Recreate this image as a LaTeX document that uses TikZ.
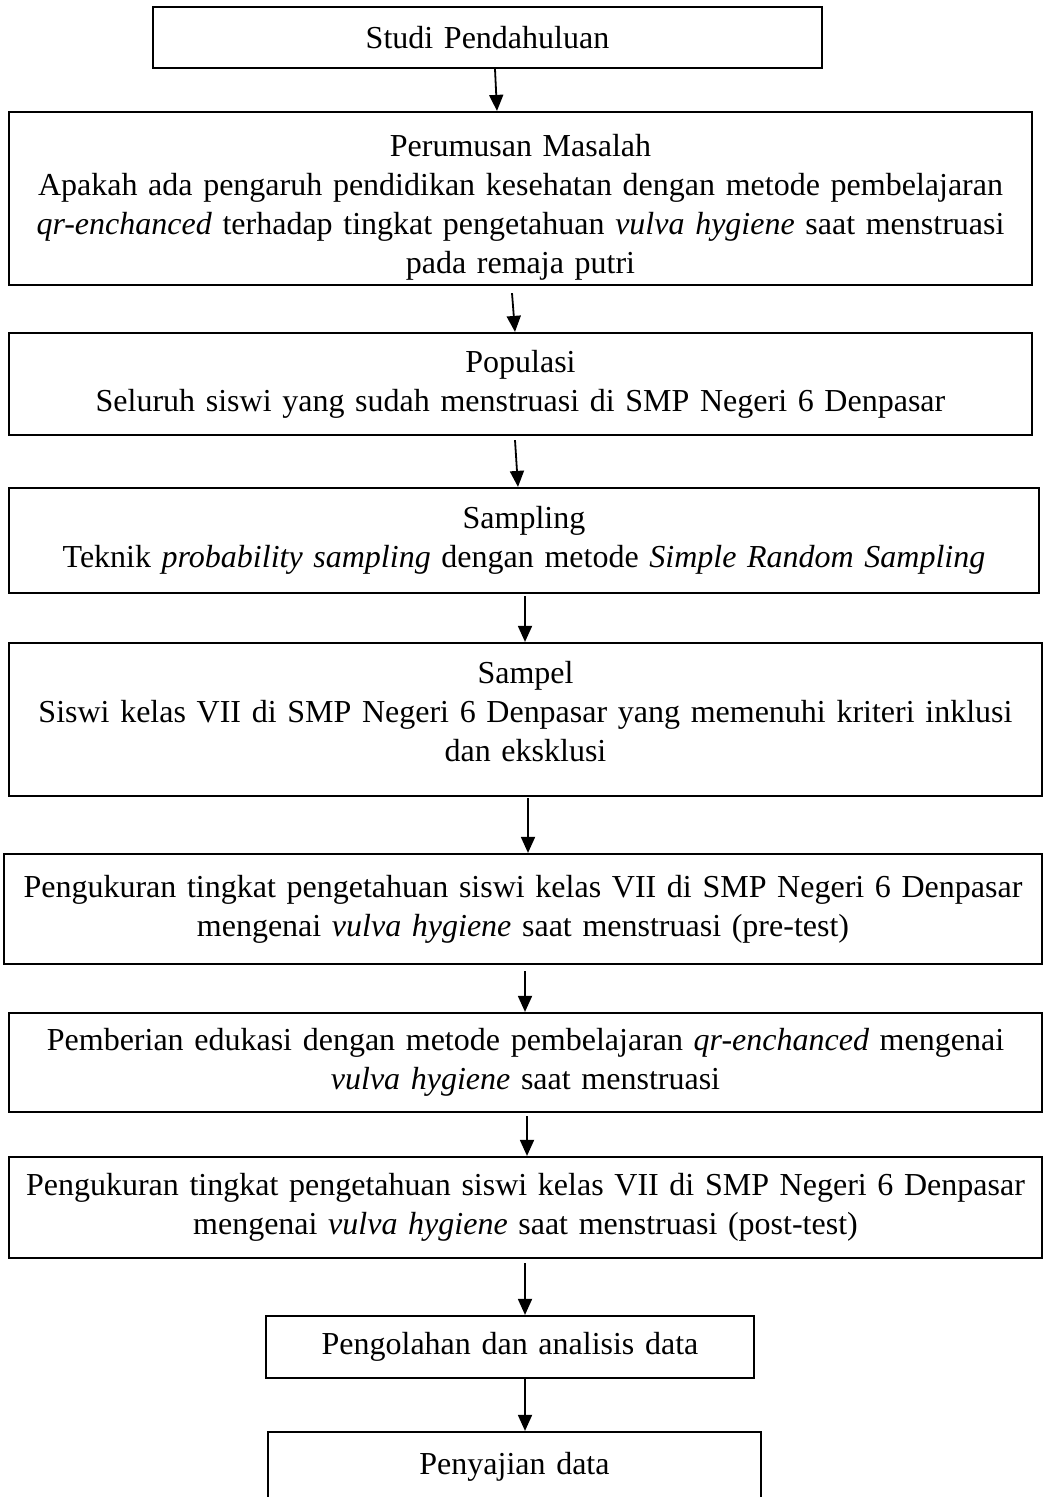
\documentclass[tikz,border=0pt]{standalone}
\usepackage{fontspec}
\setmainfont{Liberation Serif}
\usetikzlibrary{arrows.meta}
\begin{document}
\begin{tikzpicture}[x=1pt,y=-1pt,
  box/.style={draw, line width=2.2pt, inner sep=0pt, align=center,
    font=\fontsize{32}{39}\selectfont},
  arr/.style={-{Triangle[length=16pt,width=14pt]}, line width=1.8pt}]
\clip (0,0) rectangle (1043,1497);
\useasboundingbox (0,0) rectangle (1043,1497);

\node[box, text width=669pt, minimum height=61pt] (b1) at (487.5,37.5) {Studi Pendahuluan};
\node[box, text width=1023pt, minimum height=173pt] (b2) at (520.5,198.5)
  {\rule{0pt}{39pt}Perumusan Masalah\\
   Apakah ada pengaruh pendidikan kesehatan dengan metode pembelajaran\\
   \textit{qr-enchanced} terhadap tingkat pengetahuan \textit{vulva hygiene} saat menstruasi\\
   pada remaja putri};
\node[box, text width=1023pt, minimum height=102pt] (b3) at (520.5,384)
  {Populasi\\ Seluruh siswi yang sudah menstruasi di SMP Negeri 6 Denpasar};
\node[box, text width=1030pt, minimum height=105pt] (b4) at (524,540.5)
  {Sampling\\ Teknik \textit{probability sampling} dengan metode \textit{Simple Random Sampling}};
\node[box, text width=1033pt, minimum height=153pt] (b5) at (525.5,719.5)
  {Sampel\\ Siswi kelas VII di SMP Negeri 6 Denpasar yang memenuhi kriteri inklusi\\ dan eksklusi\rule[-17pt]{0pt}{0pt}};
\node[box, text width=1038pt, minimum height=110pt] (b6) at (523,909)
  {Pengukuran tingkat pengetahuan siswi kelas VII di SMP Negeri 6 Denpasar\\
   mengenai \textit{vulva hygiene} saat menstruasi (pre-test)};
\node[box, text width=1033pt, minimum height=99pt] (b7) at (525.5,1062.5)
  {Pemberian edukasi dengan metode pembelajaran \textit{qr-enchanced} mengenai\\
   \textit{vulva hygiene} saat menstruasi};
\node[box, text width=1033pt, minimum height=101pt] (b8) at (525.5,1207.5)
  {Pengukuran tingkat pengetahuan siswi kelas VII di SMP Negeri 6 Denpasar\\
   mengenai \textit{vulva hygiene} saat menstruasi (post-test)};
\node[box, text width=488pt, minimum height=62pt] (b9) at (510,1347) {Pengolahan dan analisis data};
\node[box, text width=493pt, minimum height=70pt] (b10) at (514.5,1467) {Penyajian data};

\draw[arr] ([xshift=7.5pt]b1.south) -- ([xshift=-23.5pt]b2.north);
\draw[arr] ([xshift=-8.5pt,yshift=-7pt]b2.south) -- ([xshift=-5.5pt]b3.north);
\draw[arr] ([xshift=-5.5pt,yshift=-4pt]b3.south) -- ([xshift=-6pt]b4.north);
\draw[arr] ([xshift=1pt,yshift=-2pt]b4.south) -- ([xshift=-0.5pt]b5.north);
\draw[arr] ([xshift=2.5pt,yshift=-1pt]b5.south) -- ([xshift=5pt]b6.north);
\draw[arr] ([xshift=2pt,yshift=-6pt]b6.south) -- ([xshift=-0.5pt]b7.north);
\draw[arr] ([xshift=1.5pt,yshift=-3pt]b7.south) -- ([xshift=1.5pt]b8.north);
\draw[arr] ([xshift=-0.5pt,yshift=-4pt]b8.south) -- ([xshift=15pt]b9.north);
\draw[arr] ([xshift=15pt]b9.south) -- ([xshift=10.5pt]b10.north);
\end{tikzpicture}
\end{document}
